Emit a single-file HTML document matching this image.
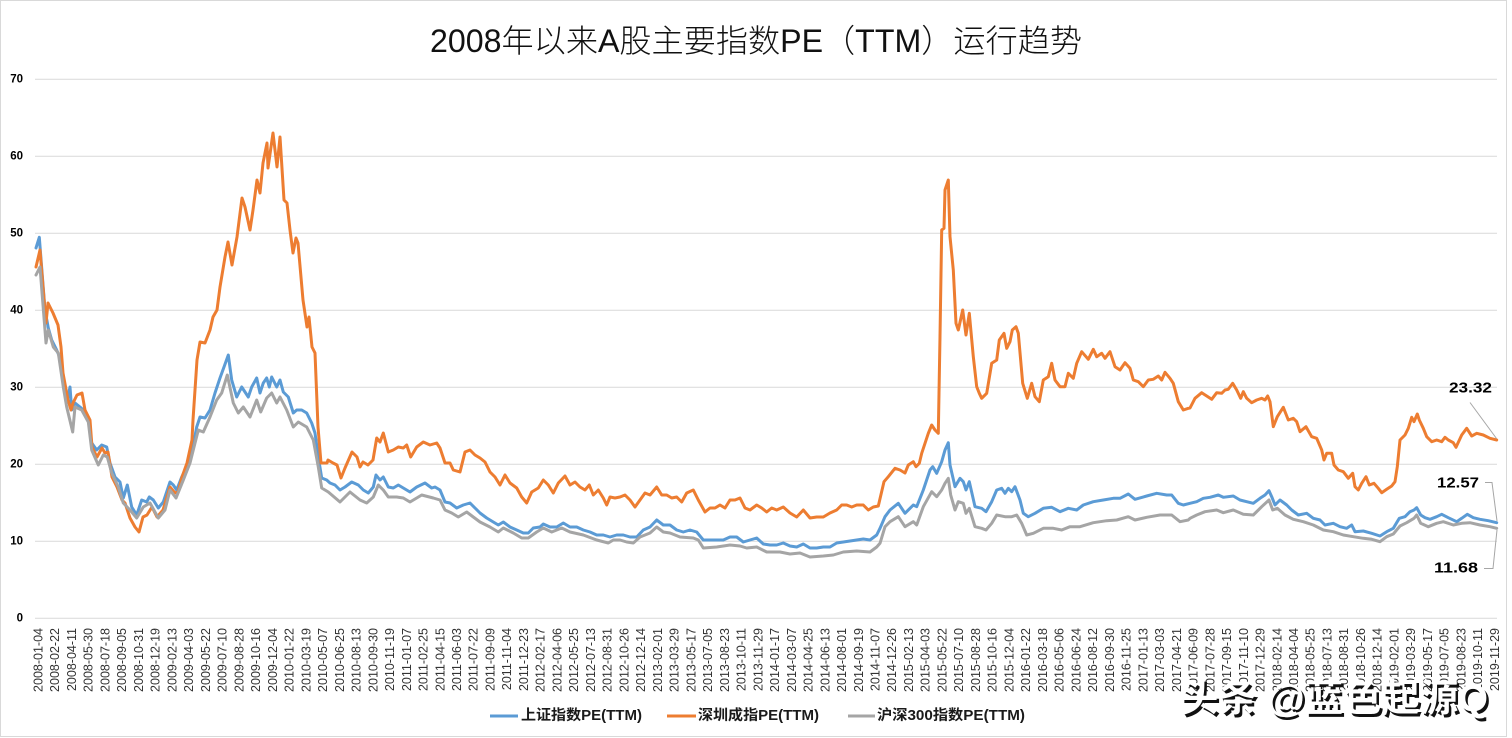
<!DOCTYPE html>
<html><head><meta charset="utf-8">
<style>
html,body{margin:0;padding:0;background:#fff;}
svg{display:block;}
.yl{font-family:"Liberation Sans","Noto Sans CJK SC",sans-serif;font-size:11.5px;font-weight:bold;fill:#000;text-anchor:end;dominant-baseline:central;}
.xl{font-family:"Liberation Sans","Noto Sans CJK SC",sans-serif;font-size:12.5px;fill:#333;text-anchor:end;}
.lg{font-family:"Liberation Sans","Noto Sans CJK SC",sans-serif;font-size:14.5px;font-weight:bold;fill:#1a1a1a;dominant-baseline:central;}
.dl{font-family:"Liberation Sans","Noto Sans CJK SC",sans-serif;font-size:15px;font-weight:bold;fill:#000;text-anchor:end;dominant-baseline:central;}
.wm{font-family:"Liberation Sans","Noto Sans CJK SC",sans-serif;font-size:38px;font-weight:bold;}
</style></head>
<body>
<svg width="1512" height="738" viewBox="0 0 1512 738" xmlns="http://www.w3.org/2000/svg">
<rect x="0" y="0" width="1512" height="738" fill="#fff"/>
<rect x="0.5" y="0.5" width="1506" height="736" fill="none" stroke="#D9D9D9" stroke-width="1"/>

<text x="756" y="52" text-anchor="middle" textLength="652" lengthAdjust="spacingAndGlyphs" style="font-family:'Liberation Sans','Noto Sans CJK SC',sans-serif;font-size:32px;font-weight:300;fill:#111;">2008年以来A股主要指数PE（TTM）运行趋势</text>

<g stroke="#D9D9D9" stroke-width="1">
<line x1="35" y1="79.3" x2="1497" y2="79.3"/>
<line x1="35" y1="156.3" x2="1497" y2="156.3"/>
<line x1="35" y1="233.3" x2="1497" y2="233.3"/>
<line x1="35" y1="310.3" x2="1497" y2="310.3"/>
<line x1="35" y1="387.3" x2="1497" y2="387.3"/>
<line x1="35" y1="464.3" x2="1497" y2="464.3"/>
<line x1="35" y1="541.3" x2="1497" y2="541.3"/>
<line x1="35" y1="618.3" x2="1497" y2="618.3"/>
</g>

<g class="yl">
<text x="23" y="79.3">70</text>
<text x="23" y="156.3">60</text>
<text x="23" y="233.3">50</text>
<text x="23" y="310.3">40</text>
<text x="23" y="387.3">30</text>
<text x="23" y="464.3">20</text>
<text x="23" y="541.3">10</text>
<text x="23" y="618.3">0</text>
</g>

<g class="xl">
<text transform="translate(38,628) rotate(-90)" dy="0.36em">2008-01-04</text>
<text transform="translate(54.74,628) rotate(-90)" dy="0.36em">2008-02-22</text>
<text transform="translate(71.48,628) rotate(-90)" dy="0.36em">2008-04-11</text>
<text transform="translate(88.22,628) rotate(-90)" dy="0.36em">2008-05-30</text>
<text transform="translate(104.96,628) rotate(-90)" dy="0.36em">2008-07-18</text>
<text transform="translate(121.7,628) rotate(-90)" dy="0.36em">2008-09-05</text>
<text transform="translate(138.44,628) rotate(-90)" dy="0.36em">2008-10-31</text>
<text transform="translate(155.18,628) rotate(-90)" dy="0.36em">2008-12-19</text>
<text transform="translate(171.92,628) rotate(-90)" dy="0.36em">2009-02-13</text>
<text transform="translate(188.66,628) rotate(-90)" dy="0.36em">2009-04-03</text>
<text transform="translate(205.4,628) rotate(-90)" dy="0.36em">2009-05-22</text>
<text transform="translate(222.14,628) rotate(-90)" dy="0.36em">2009-07-10</text>
<text transform="translate(238.88,628) rotate(-90)" dy="0.36em">2009-08-28</text>
<text transform="translate(255.62,628) rotate(-90)" dy="0.36em">2009-10-16</text>
<text transform="translate(272.36,628) rotate(-90)" dy="0.36em">2009-12-04</text>
<text transform="translate(289.1,628) rotate(-90)" dy="0.36em">2010-01-22</text>
<text transform="translate(305.84,628) rotate(-90)" dy="0.36em">2010-03-19</text>
<text transform="translate(322.58,628) rotate(-90)" dy="0.36em">2010-05-07</text>
<text transform="translate(339.32,628) rotate(-90)" dy="0.36em">2010-06-25</text>
<text transform="translate(356.06,628) rotate(-90)" dy="0.36em">2010-08-13</text>
<text transform="translate(372.8,628) rotate(-90)" dy="0.36em">2010-09-30</text>
<text transform="translate(389.54,628) rotate(-90)" dy="0.36em">2010-11-19</text>
<text transform="translate(406.28,628) rotate(-90)" dy="0.36em">2011-01-07</text>
<text transform="translate(423.02,628) rotate(-90)" dy="0.36em">2011-02-25</text>
<text transform="translate(439.76,628) rotate(-90)" dy="0.36em">2011-04-15</text>
<text transform="translate(456.5,628) rotate(-90)" dy="0.36em">2011-06-03</text>
<text transform="translate(473.24,628) rotate(-90)" dy="0.36em">2011-07-22</text>
<text transform="translate(489.98,628) rotate(-90)" dy="0.36em">2011-09-09</text>
<text transform="translate(506.72,628) rotate(-90)" dy="0.36em">2011-11-04</text>
<text transform="translate(523.46,628) rotate(-90)" dy="0.36em">2011-12-23</text>
<text transform="translate(540.2,628) rotate(-90)" dy="0.36em">2012-02-17</text>
<text transform="translate(556.94,628) rotate(-90)" dy="0.36em">2012-04-06</text>
<text transform="translate(573.68,628) rotate(-90)" dy="0.36em">2012-05-25</text>
<text transform="translate(590.42,628) rotate(-90)" dy="0.36em">2012-07-13</text>
<text transform="translate(607.16,628) rotate(-90)" dy="0.36em">2012-08-31</text>
<text transform="translate(623.9,628) rotate(-90)" dy="0.36em">2012-10-26</text>
<text transform="translate(640.64,628) rotate(-90)" dy="0.36em">2012-12-14</text>
<text transform="translate(657.38,628) rotate(-90)" dy="0.36em">2013-02-01</text>
<text transform="translate(674.12,628) rotate(-90)" dy="0.36em">2013-03-29</text>
<text transform="translate(690.86,628) rotate(-90)" dy="0.36em">2013-05-17</text>
<text transform="translate(707.6,628) rotate(-90)" dy="0.36em">2013-07-05</text>
<text transform="translate(724.34,628) rotate(-90)" dy="0.36em">2013-08-23</text>
<text transform="translate(741.08,628) rotate(-90)" dy="0.36em">2013-10-11</text>
<text transform="translate(757.82,628) rotate(-90)" dy="0.36em">2013-11-29</text>
<text transform="translate(774.56,628) rotate(-90)" dy="0.36em">2014-01-17</text>
<text transform="translate(791.3,628) rotate(-90)" dy="0.36em">2014-03-07</text>
<text transform="translate(808.04,628) rotate(-90)" dy="0.36em">2014-04-25</text>
<text transform="translate(824.78,628) rotate(-90)" dy="0.36em">2014-06-13</text>
<text transform="translate(841.52,628) rotate(-90)" dy="0.36em">2014-08-01</text>
<text transform="translate(858.26,628) rotate(-90)" dy="0.36em">2014-09-19</text>
<text transform="translate(875,628) rotate(-90)" dy="0.36em">2014-11-07</text>
<text transform="translate(891.74,628) rotate(-90)" dy="0.36em">2014-12-26</text>
<text transform="translate(908.48,628) rotate(-90)" dy="0.36em">2015-02-13</text>
<text transform="translate(925.22,628) rotate(-90)" dy="0.36em">2015-04-03</text>
<text transform="translate(941.96,628) rotate(-90)" dy="0.36em">2015-05-22</text>
<text transform="translate(958.7,628) rotate(-90)" dy="0.36em">2015-07-10</text>
<text transform="translate(975.44,628) rotate(-90)" dy="0.36em">2015-08-28</text>
<text transform="translate(992.18,628) rotate(-90)" dy="0.36em">2015-10-16</text>
<text transform="translate(1008.92,628) rotate(-90)" dy="0.36em">2015-12-04</text>
<text transform="translate(1025.66,628) rotate(-90)" dy="0.36em">2016-01-22</text>
<text transform="translate(1042.4,628) rotate(-90)" dy="0.36em">2016-03-18</text>
<text transform="translate(1059.14,628) rotate(-90)" dy="0.36em">2016-05-06</text>
<text transform="translate(1075.88,628) rotate(-90)" dy="0.36em">2016-06-24</text>
<text transform="translate(1092.62,628) rotate(-90)" dy="0.36em">2016-08-12</text>
<text transform="translate(1109.36,628) rotate(-90)" dy="0.36em">2016-09-30</text>
<text transform="translate(1126.1,628) rotate(-90)" dy="0.36em">2016-11-25</text>
<text transform="translate(1142.84,628) rotate(-90)" dy="0.36em">2017-01-13</text>
<text transform="translate(1159.58,628) rotate(-90)" dy="0.36em">2017-03-03</text>
<text transform="translate(1176.32,628) rotate(-90)" dy="0.36em">2017-04-21</text>
<text transform="translate(1193.06,628) rotate(-90)" dy="0.36em">2017-06-09</text>
<text transform="translate(1209.8,628) rotate(-90)" dy="0.36em">2017-07-28</text>
<text transform="translate(1226.54,628) rotate(-90)" dy="0.36em">2017-09-15</text>
<text transform="translate(1243.28,628) rotate(-90)" dy="0.36em">2017-11-10</text>
<text transform="translate(1260.02,628) rotate(-90)" dy="0.36em">2017-12-29</text>
<text transform="translate(1276.76,628) rotate(-90)" dy="0.36em">2018-02-14</text>
<text transform="translate(1293.5,628) rotate(-90)" dy="0.36em">2018-04-04</text>
<text transform="translate(1310.24,628) rotate(-90)" dy="0.36em">2018-05-25</text>
<text transform="translate(1326.98,628) rotate(-90)" dy="0.36em">2018-07-13</text>
<text transform="translate(1343.72,628) rotate(-90)" dy="0.36em">2018-08-31</text>
<text transform="translate(1360.46,628) rotate(-90)" dy="0.36em">2018-10-26</text>
<text transform="translate(1377.2,628) rotate(-90)" dy="0.36em">2018-12-14</text>
<text transform="translate(1393.94,628) rotate(-90)" dy="0.36em">2019-02-01</text>
<text transform="translate(1410.68,628) rotate(-90)" dy="0.36em">2019-03-29</text>
<text transform="translate(1427.42,628) rotate(-90)" dy="0.36em">2019-05-17</text>
<text transform="translate(1444.16,628) rotate(-90)" dy="0.36em">2019-07-05</text>
<text transform="translate(1460.9,628) rotate(-90)" dy="0.36em">2019-08-23</text>
<text transform="translate(1477.64,628) rotate(-90)" dy="0.36em">2019-10-11</text>
<text transform="translate(1494.38,628) rotate(-90)" dy="0.36em">2019-11-29</text>
</g>

<g fill="none" stroke-width="3" stroke-linejoin="round" stroke-linecap="round">
<polyline stroke="#5B9BD5" points="36,248 39.3,237.3 45,310 48.3,328 51.7,340 56.7,350 60.7,360 63.3,380 66.7,403 70,387 71.7,410 75,403 80,407 83.3,410 88.3,420 91.7,443 96.7,450 101.7,445 106.7,447 110,463 115,477 120,482 123.3,498 127.3,485 131.7,507 136.7,515 141.7,500 146.7,502 149.3,497 153.3,500 158.3,508 163.3,502 170,482 173.3,485 176.7,490 181.7,477 186.7,467 191.7,453 196.7,427 200,417 205,418 210,410 215,393 220,378 224,367 228.3,355 231.7,380 236.7,397 241.7,387 248.3,397 251.7,387 256.7,378 260,393 263.3,383 266.7,378 269.3,387 271.7,377 276.7,387 280,380 283.3,392 288.3,397 293.3,413 296.7,410 301.7,410 306.7,413 311.7,423 315,433 318.3,457 321.7,478 326.7,480 330,483 335,485 340,490 345,487 351.7,482 358.3,485 363.3,490 368.3,493 373.3,487 376,475 380,480 383.3,477 388.3,487 393.3,488 398.3,485 403.3,488 410,492 416.7,487 425,483 431.7,488 435,487 440,490 445,502 450,503 456.7,508 463.3,505 470,503 475,508 480,513 486.7,518 493.3,522 498.3,525 503.3,522 510,527 516.7,530 523.3,533 528.3,533 533.3,528 540,527 543.3,524 550,527 556.7,527 563.3,523 570,527 576.7,527 583.3,530 590,532 596.7,535 603.3,535 610,537 616.7,535 623.3,535 630,537 636.7,537 643.3,530 650,527 656.7,520 663.3,525 670,525 676.7,530 683.3,532 690,530 696.7,532 703.3,540 710,540 716.7,540 723.3,540 730,537 736.7,537 743.3,542 750,540 756.7,538 763.3,544 770,545 776.7,545 783.3,543 790,546 796.7,547 803.3,544 810,548 816.7,548 823.3,547 830,547 836.7,543 843.3,542 850,541 856.7,540 863.3,539 870,540 876.7,535 880,528.3 885,516.7 890,510 898.3,503.3 905,513.3 910,508.3 913.3,505 916.7,506.7 923.3,490 930,470 932.7,466.7 936.7,473.3 941.7,461.7 945,450 948.3,442.7 950,465 955,486.7 960,478.3 963.3,481.7 966,490 969.3,481.7 975,506.7 981.7,508.3 986,511.7 991.7,501.7 996.7,490 1001.7,488.3 1005,493.3 1008.3,488.3 1011.7,491.7 1015,486.7 1020,500 1023.3,513.3 1028.3,516.7 1035,513.3 1043.3,508.3 1051.7,507.3 1060,511.7 1068.3,508.3 1076.7,510 1083.3,505 1093.3,501.7 1103.3,500 1113.3,498.3 1120,498.3 1128.3,494 1135,499.3 1146.7,496 1156.7,493.3 1166.7,495 1171.7,495 1178.3,503.3 1183.3,505 1190,503.3 1196.7,501.7 1203.3,498.3 1210,497.3 1218.3,495 1223.3,497.3 1233.3,496 1240,500 1246.7,501.7 1253.3,503.3 1260,498.3 1265,495 1269,490.7 1271.7,496.7 1275,505 1280,500 1286.7,505 1291.7,510 1298.3,515 1306.7,513.3 1313.3,518.3 1320,520 1325,525 1333.3,523.3 1340,526.7 1346.7,528.3 1351.7,525 1355,531.7 1363.3,531 1371.7,533.3 1380,536 1386.7,531.7 1393.3,528.3 1399.3,518.3 1405,516.7 1410,511.7 1414,510 1416.7,507.7 1420.7,515 1425,517.7 1430,519.3 1436.7,516.7 1441.7,514.3 1448.3,517.7 1456.7,521.7 1461.7,518.3 1467.3,514.3 1473.3,517.7 1480,519.3 1488.3,520.7 1496.7,522.7"/>
<polyline stroke="#ED7D31" points="36,267 40,250 46,323 48,303 53,313 58,325 61,347 63,373 68,400 71,410 73,403 77,395 82,393 85,410 90,420 92,447 97,457 102,448 105,453 108,452 112,477 117,487 122,500 125,503 130,518 135,527 139,532 143,517 147,515 152,507 157,517 163,510 170,487 175,493 178,492 182,477 187,463 192,440 193,420 197,360 200,342 205,343 210,330 213,317 217,310 220,287 225,257 228,242 232,265 237,237 242,198 245,207 250,230 253,210 257,180 260,193 263,163 267,143 268,168 273,133 277,167 280,137 284,200 287,203 290,230 293,253 296,238 298,243 303,300 307,327 309,317 312,347 315,353 318,427 321,463 327,463 328,460 333,463 337,465 341,478 345,468 352,452 357,457 360,467 363,462 368,465 373,460 376.7,438 380,442 383.3,433 388.3,452 393.3,450 398.3,447 403.3,448 406.7,445 410.7,457 416.7,447 423.3,442 430,445 436.7,443 440,448 445,463 450,463 453.3,470 460,472 465,452 470,450 475,455 480,458 485,462 490,472 495,477 500,485 505,475 510,483 516.7,488 521.7,497 526.7,503 531.7,492 538.3,488 543.3,480 548.3,485 553.3,493 558.3,483 565,476 570,485 575,482 580,487 585,490 589.3,485 593.3,495 598.3,490 603.3,498 606.7,505 610,497 615,498 620,497 625,495 630,500 635,507 640,500 645,493 650,495 656.7,487 661.7,495 666.7,495 671.7,498 676.7,497 681.7,502 686.7,493 693.3,490 698.3,500 705,512 710,508 715,508 720,505 725,508 730,500 735,500 740,498 745,508 750,510 756.7,505 761.7,508 766.7,512 771.7,508 776.7,510 783.3,507 790,513 796.7,517 803.3,510 810,518 816.7,517 823.3,517 830,513 836.7,510 841.7,505 846.7,505 851.7,507 856.7,505 863.3,505 868.3,510 873.3,507 878.3,506 884,481.7 888.3,476.7 895,468.3 900,470 905,473 908.3,465 913.3,461.7 916,466.7 919.3,463.3 921.7,453.3 925,443.3 928.3,433.3 931.7,425 935,430 938.3,433.3 940,336.7 941.7,230 944,228.3 945,190 948.3,180 950,236.7 953.3,270 956,323.3 958.3,330 962.7,310 966,335 969.3,313.3 973.3,356.7 976.7,386.7 979.3,393.3 981.7,398.3 986.7,393.3 991.7,363.3 996.7,360 999.3,340 1004,333.3 1006.7,348.3 1010,341.7 1012.3,330 1016,326.7 1018.3,333.3 1022.7,383.3 1027.3,398.3 1031.7,383.3 1035,396.7 1039.3,401.7 1043.3,380 1048.3,376.7 1051.7,363.3 1055,380 1060,386.7 1065,386.7 1068.3,373.3 1073.3,378.3 1076.7,363.3 1081.7,351.7 1088.3,359.3 1093.3,349.3 1096.7,356.7 1101.7,353.3 1105,358.3 1110,351.7 1115,366.7 1120,370 1125,362.7 1130,368.3 1133.3,380 1138.3,381.7 1143.3,386.7 1148.3,380 1153.3,379.3 1158.3,376 1161.7,380 1165,372.3 1170,378.3 1173.3,383.3 1178.3,401.7 1183.3,410 1188.3,408.3 1190,408 1195,398.3 1201.7,392.7 1206.7,396 1211.7,399.3 1216.7,392.7 1221.7,393.3 1225,390 1228.3,389.3 1232.7,383.3 1236.7,390 1240.7,398.3 1243.3,391.7 1246.7,398.3 1251.7,402.7 1256.7,400 1261.7,398.3 1265,400 1267.7,396 1270,401.7 1273.3,426.7 1277.3,416.7 1283.3,407.3 1288.3,420 1293.3,418.3 1296.7,421.7 1300,431.7 1306,426.7 1311.7,436.7 1316.7,438.3 1321.7,450 1324,460 1326.7,453.3 1331.7,453.3 1334,465 1338.3,470 1343.3,471.7 1348.3,478.3 1352.7,473.3 1355,486.7 1358.3,490 1361.7,483.3 1366,476.7 1369.3,485 1374,483.3 1378.3,488.3 1381.7,492.7 1386.7,489.3 1391.7,486 1395,481.7 1397.3,466.7 1400,440 1405,435 1408.3,428.3 1411.7,417.3 1414,421.7 1417.3,414 1419.3,420 1423.3,428.3 1426.7,436.7 1431.7,441.7 1436.7,440 1441.7,441.7 1445,437.3 1448.3,440 1453.3,442.7 1456,447.3 1461.7,435 1466.7,428.3 1471.7,436 1476.7,433.3 1483.3,435 1490,438.3 1496.7,440"/>
<polyline stroke="#A5A5A5" points="36,275 40,267 46,343 48.3,330 53.3,347 58.3,353 63.3,387 66.7,407 72.7,432 75,407 81.7,410 88.3,422 91.7,450 98.3,465 103.3,455 107.3,457 111.7,473 118.3,487 123.3,503 130,510 136.7,518 143.3,507 150,503 158.3,518 165,510 170,490 176,498 183.3,480 190,463 198.3,430 203.3,432 210,417 216.7,400 221.7,393 227.3,375 233.3,403 238.3,413 243.3,407 250,417 256.7,400 260.7,412 266.7,398 271.7,393 276.7,403 280,397 286.7,410 293.3,427 298.3,422 306.7,427 313.3,440 318.3,467 321.7,488 328.3,492 340,502 350,492 360,500 366.7,503 373.3,497 378.3,485 383.3,490 388.3,497 396.7,497 403.3,498 410,502 421.7,495 433.3,498 440,500 445,510 451.7,513 458.3,517 466.7,512 473.3,517 480,522 490,527 498.3,532 503.3,528 513.3,533 521.7,538 528.3,538 536.7,532 543.3,528 551.7,532 561.7,528 570,532 583.3,535 596.7,540 608.3,543 613.3,540 620,540 626.7,542 633.3,543 640,537 650,533 656.7,527 663.3,532 670,533 680,537 693.3,538 698.3,540 703.3,548 716.7,547 730,545 740,546 746.7,548 756.7,547 766.7,552 780,552 790,554 800,553 810,557 823.3,556 833.3,555 843.3,552 856.7,551 870,552 876.7,547 880,543.3 885,526.7 890,521.7 898.3,516.7 905,526.7 913.3,521.7 916.7,525 923.3,506.7 931.7,491.7 936.7,496.7 941.7,490 945,483.3 948.3,478.3 950.7,495 955,510 958.3,501.7 963.3,503.3 966,513.3 969.3,508.3 975,526.7 981.7,528.3 986,530 991.7,523.3 996.7,515 1005,516.7 1011.7,516.7 1016.7,515 1021.7,523.3 1026.7,535 1033.3,533.3 1043.3,528.3 1053.3,528.3 1061.7,530 1070,526.7 1080,526.7 1093.3,522.7 1106.7,520.7 1116.7,520 1128.3,516.7 1135,520 1146.7,517.3 1160,515 1171.7,515 1180,521.7 1188.3,520 1190,518.3 1196.7,515 1205,511.7 1216.7,510 1223.3,512.7 1233.3,510 1243.3,514.3 1253.3,515 1261.7,506.7 1269,500 1272.7,510 1277.3,508.3 1285,515 1293.3,519.3 1303.3,521.7 1313.3,525 1323.3,530 1333.3,531.7 1343.3,535 1353.3,536.7 1363.3,538.3 1371.7,539.3 1380,541.7 1386.7,536.7 1393.3,534 1400,526 1406.7,522.7 1414,518.3 1416.7,515 1420.7,523.3 1428.3,526.7 1436.7,523.3 1443.3,521.7 1453.3,525 1461.7,523.3 1470,522.7 1480,525 1490,526.7 1496.7,528.3"/>
</g>

<g stroke="#A6A6A6" stroke-width="1" fill="none">
<polyline points="1470,402.5 1496.5,438.5"/>
<polyline points="1485,482.5 1492,482.5 1497,521"/>
<polyline points="1484,568.5 1493,568.5 1497,530"/>
</g>
<text class="dl" x="1492" y="388" textLength="43" lengthAdjust="spacingAndGlyphs">23.32</text>
<text class="dl" x="1479" y="483" textLength="42" lengthAdjust="spacingAndGlyphs">12.57</text>
<text class="dl" x="1478" y="568" textLength="44" lengthAdjust="spacingAndGlyphs">11.68</text>

<g stroke-width="3">
<line x1="490" y1="716" x2="518" y2="716" stroke="#5B9BD5"/>
<line x1="667" y1="716" x2="696" y2="716" stroke="#ED7D31"/>
<line x1="848" y1="716" x2="875" y2="716" stroke="#A5A5A5"/>
</g>
<text class="lg" x="521" y="716" textLength="121" lengthAdjust="spacingAndGlyphs">上证指数PE(TTM)</text>
<text class="lg" x="698" y="716" textLength="121" lengthAdjust="spacingAndGlyphs">深圳成指PE(TTM)</text>
<text class="lg" x="877" y="716" textLength="148" lengthAdjust="spacingAndGlyphs">沪深300指数PE(TTM)</text>

<text class="wm" x="1182.5" y="714" textLength="308" lengthAdjust="spacingAndGlyphs" fill="#111">头条 @蓝色起源Q</text>
<text class="wm" x="1180" y="711" textLength="308" lengthAdjust="spacingAndGlyphs" fill="#fff">头条 @蓝色起源Q</text>
</svg>
</body></html>
